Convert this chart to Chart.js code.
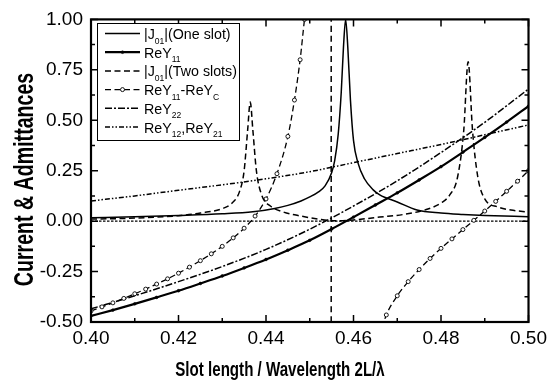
<!DOCTYPE html>
<html>
<head>
<meta charset="utf-8">
<script src="https://cdn.jsdelivr.net/npm/chart.js@4.4.1/dist/chart.umd.min.js"></script>
<style>
  html, body { margin: 0; padding: 0; background: #fff; }
  #wrap { width: 552px; height: 383px; }
</style>
</head>
<body>
<div id="wrap"><canvas id="slotChart" width="552" height="383"></canvas></div>
<script>
// |J01| with one slot
const oneSlotX = [0.400, 0.410, 0.420, 0.430, 0.437, 0.442, 0.445, 0.448, 0.450, 0.452, 0.4535, 0.455, 0.4557, 0.4565, 0.4572, 0.4577, 0.4582,
                  0.4587, 0.4593, 0.4600, 0.4610, 0.4625, 0.4645, 0.466, 0.470, 0.4745, 0.480, 0.485, 0.490, 0.500];
const oneSlotY = [0.017, 0.022, 0.028, 0.036, 0.046, 0.063, 0.078, 0.100, 0.120, 0.145, 0.175, 0.240, 0.300, 0.430, 0.640, 0.860, 1.000,
                  0.860, 0.600, 0.400, 0.290, 0.210, 0.155, 0.130, 0.095, 0.055, 0.040, 0.033, 0.028, 0.022];

// ReY11
const reY11X = [0.400, 0.405, 0.410, 0.415, 0.420, 0.425, 0.430, 0.435, 0.440, 0.445, 0.450,
                0.455, 0.460, 0.465, 0.470, 0.475, 0.480, 0.485, 0.490, 0.495, 0.500];
const reY11Y = [-0.470, -0.441, -0.410, -0.378, -0.345, -0.309, -0.272, -0.232, -0.190, -0.144, -0.095,
                -0.039, 0.020, 0.080, 0.140, 0.204, 0.270, 0.342, 0.415, 0.491, 0.570];

// |J01| with two slots
const twoSlotsX = [0.400, 0.410, 0.420, 0.425, 0.430, 0.432, 0.434, 0.435, 0.4358, 0.4364, 0.437, 0.4378, 0.439, 0.441, 0.444, 0.448, 0.452, 0.4555,
                   0.460, 0.466, 0.472, 0.477, 0.480, 0.482, 0.4838, 0.4852, 0.4862, 0.4872, 0.4884, 0.490, 0.493, 0.496, 0.500];
const twoSlotsY = [0.010, 0.015, 0.027, 0.040, 0.062, 0.085, 0.150, 0.250, 0.450, 0.590, 0.450, 0.250, 0.130, 0.075, 0.045, 0.025, 0.010, 0.002,
                   0.006, 0.020, 0.035, 0.060, 0.090, 0.130, 0.220, 0.450, 0.790, 0.450, 0.220, 0.110, 0.070, 0.055, 0.045];

// ReY11 - ReYC, left and right of the pole
const diffLeftX = [0.4000, 0.4025, 0.4050, 0.4075, 0.4100, 0.4125, 0.4150, 0.4175, 0.4200, 0.4225, 0.4250, 0.4275,
                   0.4300, 0.4325, 0.4350, 0.4375, 0.4400, 0.4425, 0.4450, 0.4465, 0.4478, 0.4488, 0.4495];
const diffLeftY = [-0.445, -0.425, -0.405, -0.383, -0.360, -0.337, -0.312, -0.286, -0.258, -0.228, -0.196, -0.162,
                   -0.125, -0.083, -0.035, 0.025, 0.110, 0.235, 0.420, 0.600, 0.800, 1.000, 1.120];
const diffRightX = [0.4665, 0.4675, 0.4700, 0.4725, 0.4750, 0.4775, 0.4800, 0.4825, 0.4850, 0.4875, 0.4900, 0.4925, 0.4950, 0.4975, 0.5000];
const diffRightY = [-0.530, -0.465, -0.370, -0.300, -0.240, -0.185, -0.135, -0.088, -0.042, 0.004, 0.050, 0.098, 0.148, 0.198, 0.250];

// ReY22
const reY22X = [0.40, 0.41, 0.42, 0.43, 0.44, 0.45, 0.46, 0.47, 0.48, 0.49, 0.50];
const reY22Y = [-0.435, -0.370, -0.300, -0.225, -0.140, -0.040, 0.075, 0.200, 0.340, 0.490, 0.655];

// ReY12, ReY21
const reY12X = [0.40, 0.41, 0.42, 0.43, 0.44, 0.45, 0.46, 0.47, 0.48, 0.49, 0.50];
const reY12Y = [0.100, 0.125, 0.153, 0.180, 0.210, 0.245, 0.290, 0.335, 0.380, 0.428, 0.477];
const flatX = [0.40, 0.50];
const flatY = [0.0, 0.0];

// vertical dashed line
const poleX = [0.4549, 0.4549];
const poleY = [-0.50, 1.00];

// legend text: [text, isSubscript]
const legendLabels = [
    [['|J', 0], ['01', 1], ['|(One slot)', 0]],
    [['ReY', 0], ['11', 1]],
    [['|J', 0], ['01', 1], ['|(Two slots)', 0]],
    [['ReY', 0], ['11', 1], ['-ReY', 0], ['C', 1]],
    [['ReY', 0], ['22', 1]],
    [['ReY', 0], ['12', 1], [',ReY', 0], ['21', 1]]
];

const xTitle = 'Slot length / Wavelength 2L/\u03bb';
const yTitle = 'Current & Admittances';

function pts(xs, ys) {
    return xs.map((x, i) => ({ x: x, y: ys[i] }));
}

const FONT = '"Liberation Sans", Arial, Helvetica, sans-serif';

function condensedText(ctx, text, x, y, sx, align) {
    ctx.save();
    ctx.translate(x, y);
    ctx.scale(sx, 1);
    ctx.textAlign = align || 'left';
    ctx.fillText(text, 0, 0);
    ctx.restore();
}

// frame, inward ticks, axis titles and legend box
const decorPlugin = {
    id: 'decor',
    afterDatasetsDraw(chart) {
        const ctx = chart.ctx;
        const a = chart.chartArea;
        const xs = chart.scales.x, ys = chart.scales.y;
        ctx.save();
        ctx.strokeStyle = '#000';
        ctx.lineWidth = 1.5;
        ctx.setLineDash([]);
        ctx.beginPath();
        for (let i = 0; i <= 10; i++) {
            const px = xs.getPixelForValue(0.40 + i * 0.01);
            const len = i % 2 === 0 ? 7 : 4;
            ctx.moveTo(px, a.bottom); ctx.lineTo(px, a.bottom - len);
            ctx.moveTo(px, a.top); ctx.lineTo(px, a.top + len);
        }
        for (let i = 0; i <= 12; i++) {
            const py = ys.getPixelForValue(-0.5 + i * 0.125);
            const len = i % 2 === 0 ? 7 : 4;
            ctx.moveTo(a.left, py); ctx.lineTo(a.left + len, py);
            ctx.moveTo(a.right, py); ctx.lineTo(a.right - len, py);
        }
        ctx.stroke();
        ctx.lineWidth = 2.2;
        ctx.strokeRect(a.left, a.top, a.right - a.left, a.bottom - a.top);

        // legend
        const bx = 97, by = 23, bw = 142, bh = 117;
        ctx.fillStyle = '#fff';
        ctx.fillRect(bx, by, bw, bh);
        ctx.lineWidth = 1;
        ctx.strokeRect(bx + 0.5, by + 0.5, bw, bh);
        const shown = chart.data.datasets.filter(d => d.legendIndex !== undefined);
        shown.forEach(ds => {
            const i = ds.legendIndex;
            const cy = 33.5 + i * 18.7;
            ctx.strokeStyle = '#000';
            ctx.lineWidth = ds.borderWidth;
            ctx.setLineDash(ds.borderDash || []);
            ctx.beginPath();
            ctx.moveTo(105, cy); ctx.lineTo(140, cy);
            ctx.stroke();
            ctx.setLineDash([]);
            if (ds.pointRadius > 0) {
                ctx.beginPath();
                ctx.arc(122.5, cy, ds.pointRadius, 0, Math.PI * 2);
                ctx.fillStyle = ds.pointBackgroundColor;
                ctx.fill();
                ctx.lineWidth = ds.pointBorderWidth || 1;
                ctx.stroke();
            }
            let tx = 144;
            ctx.fillStyle = '#000';
            ctx.textBaseline = 'alphabetic';
            legendLabels[i].forEach(seg => {
                const sub = seg[1] === 1;
                ctx.font = (sub ? '9px ' : '15px ') + FONT;
                const w = ctx.measureText(seg[0]).width * 0.95;
                condensedText(ctx, seg[0], tx, cy + (sub ? 10 : 5.5), 0.95, 'left');
                tx += w;
            });
        });

        // axis titles
        ctx.fillStyle = '#000';
        ctx.textBaseline = 'alphabetic';
        ctx.font = 'bold 21px ' + FONT;
        condensedText(ctx, xTitle, 280, 375.5, 0.72, 'center');
        ctx.save();
        ctx.translate(33, 179.5);
        ctx.rotate(-Math.PI / 2);
        ctx.font = 'bold 28px ' + FONT;
        condensedText(ctx, yTitle, 0, 0, 0.70, 'center');
        ctx.restore();
        ctx.restore();
    }
};

const common = {
    borderColor: '#000',
    showLine: true,
    fill: false,
    pointRadius: 0,
    cubicInterpolationMode: 'monotone'
};

const ctx = document.getElementById('slotChart').getContext('2d');
const slotChart = new Chart(ctx, {
    type: 'scatter',
    data: {
        datasets: [
            Object.assign({}, common, { label: '|J01|(One slot)', legendIndex: 0, data: pts(oneSlotX, oneSlotY), borderWidth: 1.5 }),
            Object.assign({}, common, { label: 'ReY11', legendIndex: 1, data: pts(reY11X, reY11Y), borderWidth: 2.2,
                pointRadius: 1.4, pointBackgroundColor: '#000', pointBorderColor: '#000', pointBorderWidth: 0.5 }),
            Object.assign({}, common, { label: '|J01|(Two slots)', legendIndex: 2, data: pts(twoSlotsX, twoSlotsY), borderWidth: 1.5, borderDash: [6, 3.5] }),
            Object.assign({}, common, { label: 'ReY11-ReYC', legendIndex: 3, data: pts(diffLeftX, diffLeftY), borderWidth: 1.3, borderDash: [6, 3.5],
                pointRadius: 2, pointBackgroundColor: '#fff', pointBorderColor: '#000', pointBorderWidth: 0.9 }),
            Object.assign({}, common, { label: 'ReY11-ReYC right', data: pts(diffRightX, diffRightY), borderWidth: 1.3, borderDash: [6, 3.5],
                pointRadius: 2, pointBackgroundColor: '#fff', pointBorderColor: '#000', pointBorderWidth: 0.9 }),
            Object.assign({}, common, { label: 'ReY22', legendIndex: 4, data: pts(reY22X, reY22Y), borderWidth: 1.5, borderDash: [7, 2, 2, 2] }),
            Object.assign({}, common, { label: 'ReY12,ReY21', legendIndex: 5, data: pts(reY12X, reY12Y), borderWidth: 1.5, borderDash: [5, 2, 1.5, 2, 1.5, 2] }),
            Object.assign({}, common, { label: 'flat', data: pts(flatX, flatY), borderWidth: 1.1, borderDash: [2.5, 1.5] }),
            Object.assign({}, common, { label: 'pole', data: pts(poleX, poleY), borderWidth: 1.5, borderDash: [6, 4] })
        ]
    },
    options: {
        responsive: false,
        animation: false,
        devicePixelRatio: 1,
        layout: { padding: { top: 15, right: 19, left: 0, bottom: 0 } },
        plugins: {
            legend: { display: false },
            tooltip: { enabled: false }
        },
        scales: {
            x: {
                type: 'linear',
                min: 0.40,
                max: 0.50,
                afterFit: s => { s.height = 61; },
                grid: { display: false, drawTicks: false },
                border: { display: false },
                ticks: {
                    stepSize: 0.02,
                    padding: 5,
                    color: '#000',
                    maxRotation: 0,
                    font: { family: FONT, size: 19 },
                    callback: v => Number(v).toFixed(2)
                }
            },
            y: {
                type: 'linear',
                min: -0.5,
                max: 1.0,
                afterFit: s => { s.width = 91; },
                grid: { display: false, drawTicks: false },
                border: { display: false },
                ticks: {
                    stepSize: 0.25,
                    padding: 8,
                    color: '#000',
                    font: { family: FONT, size: 19 },
                    callback: v => Number(v).toFixed(2)
                }
            }
        }
    },
    plugins: [decorPlugin]
});
</script>
</body>
</html>
